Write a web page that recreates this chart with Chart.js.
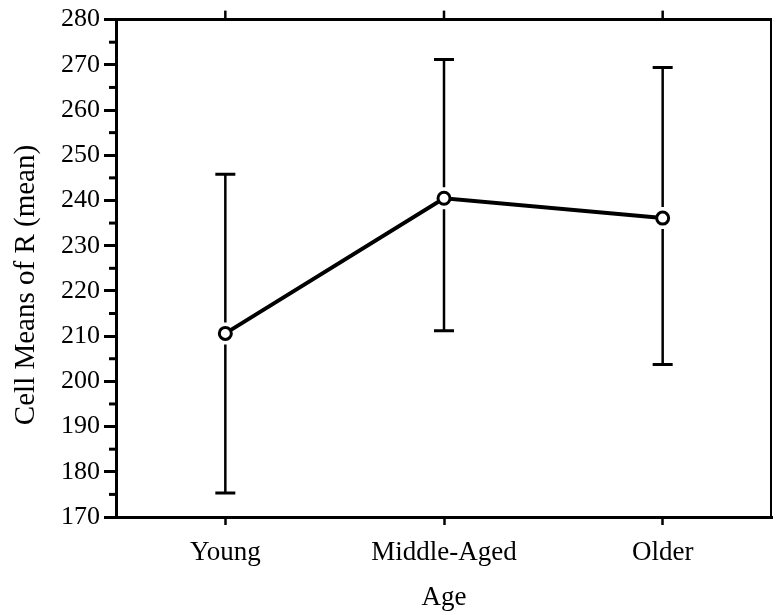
<!DOCTYPE html>
<html>
<head>
<meta charset="utf-8">
<script src="https://cdn.jsdelivr.net/npm/chart.js@4/dist/chart.umd.min.js"></script>
<style>
  html, body { margin:0; padding:0; background:#fff; }
  canvas { display:block; }
</style>
</head>
<body>
<canvas id="chart" width="781" height="615"></canvas>
<script>
// cell means of R by age group, with error bar ends
const ageGroups = ['Young', 'Middle-Aged', 'Older'];
const cellMeans = [210.6, 240.5, 236.1];
const upperEnds = [245.8, 271.2, 269.4];
const lowerEnds = [175.3, 211.2, 203.7];
const yTicks = [170, 180, 190, 200, 210, 220, 230, 240, 250, 260, 270, 280];
const yMinorTicks = [175, 185, 195, 205, 215, 225, 235, 245, 255, 265, 275];
const yTitle = 'Cell Means of R (mean)';

const serif = "'Liberation Serif', 'Times New Roman', serif";

// error bars, frame top/right, minor ticks, top ticks and the y title
const extras = {
  id: 'extras',
  beforeDatasetsDraw(chart) {
    const ctx = chart.ctx, xs = chart.scales.x, ys = chart.scales.y;
    const gap = 11;
    ctx.save();
    ctx.strokeStyle = '#000';
    ctx.lineCap = 'butt';
    ageGroups.forEach((g, i) => {
      const px = xs.getPixelForValue(i);
      const top = ys.getPixelForValue(upperEnds[i]);
      const mid = ys.getPixelForValue(cellMeans[i]);
      const bot = ys.getPixelForValue(lowerEnds[i]);
      ctx.lineWidth = 2.5;
      ctx.beginPath();
      ctx.moveTo(px, top); ctx.lineTo(px, mid - gap);
      ctx.moveTo(px, mid + gap); ctx.lineTo(px, bot);
      ctx.stroke();
      ctx.lineWidth = 3;
      ctx.beginPath();
      ctx.moveTo(px - 10, top); ctx.lineTo(px + 10, top);
      ctx.moveTo(px - 10, bot); ctx.lineTo(px + 10, bot);
      ctx.stroke();
    });
    ctx.restore();
  },
  afterDraw(chart) {
    const ctx = chart.ctx, a = chart.chartArea, xs = chart.scales.x, ys = chart.scales.y;
    ctx.save();
    ctx.strokeStyle = '#000';
    // top frame
    ctx.lineWidth = 3;
    ctx.beginPath();
    ctx.moveTo(a.left - 1, a.top); ctx.lineTo(a.right, a.top);
    ctx.stroke();
    // right frame
    ctx.lineWidth = 2;
    ctx.beginPath();
    ctx.moveTo(a.right - 1, a.top); ctx.lineTo(a.right - 1, a.bottom);
    ctx.stroke();
    // ticks on top
    ctx.lineWidth = 2.5;
    ageGroups.forEach((g, i) => {
      const px = xs.getPixelForValue(i);
      ctx.beginPath();
      ctx.moveTo(px, a.top); ctx.lineTo(px, a.top - 9);
      ctx.stroke();
    });
    // minor y ticks
    ctx.lineWidth = 3;
    yMinorTicks.forEach(v => {
      const py = ys.getPixelForValue(v);
      ctx.beginPath();
      ctx.moveTo(a.left, py); ctx.lineTo(a.left - 7, py);
      ctx.stroke();
    });
    // y title, sits a bit below the axis middle in the original
    ctx.fillStyle = '#000';
    ctx.font = '29px ' + serif;
    ctx.textAlign = 'center';
    ctx.textBaseline = 'middle';
    ctx.translate(26, 285);
    ctx.rotate(-Math.PI / 2);
    ctx.fillText(yTitle, 0, 0);
    ctx.restore();
  }
};

new Chart(document.getElementById('chart'), {
  type: 'line',
  data: {
    labels: ageGroups,
    datasets: [{
      data: cellMeans,
      borderColor: '#000',
      borderWidth: 4,
      tension: 0,
      pointRadius: 6,
      pointBorderWidth: 3,
      pointBackgroundColor: '#fff',
      pointBorderColor: '#000'
    }]
  },
  options: {
    responsive: false,
    animation: false,
    layout: { padding: { top: 18, right: 1, left: 0, bottom: 0 } },
    plugins: { legend: { display: false }, tooltip: { enabled: false } },
    scales: {
      x: {
        type: 'category',
        offset: true,
        grid: { drawOnChartArea: false, tickLength: 8, tickWidth: 2.5, tickColor: '#000', offset: false },
        border: { color: '#000', width: 3 },
        ticks: { color: '#000', font: { family: serif, size: 27 }, padding: 12, maxRotation: 0 },
        title: { display: true, text: 'Age', color: '#000', font: { family: serif, size: 27 }, padding: { top: 0, bottom: 1 } },
        afterFit(s) { s.height = 98; }
      },
      y: {
        min: 170,
        max: 280,
        afterBuildTicks(s) { s.ticks = yTicks.map(v => ({ value: v })); },
        grid: { drawOnChartArea: false, tickLength: 12, tickWidth: 3, tickColor: '#000' },
        border: { color: '#000', width: 3 },
        ticks: { color: '#000', font: { family: serif, size: 26 }, padding: 4 },
        afterFit(s) { s.width = 116; }
      }
    }
  },
  plugins: [extras]
});
</script>
</body>
</html>
